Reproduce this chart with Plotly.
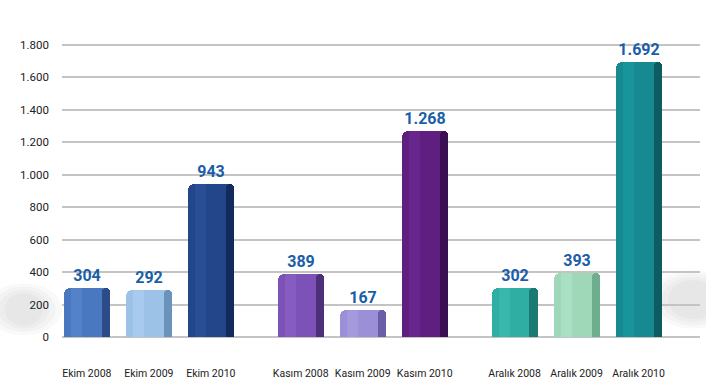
import plotly.graph_objects as go

# Monthly counts, grouped by month, three years each
categories = ["Ekim 2008", "Ekim 2009", "Ekim 2010",
              "Kasım 2008", "Kasım 2009", "Kasım 2010",
              "Aralık 2008", "Aralık 2009", "Aralık 2010"]
values = [304, 292, 943, 389, 167, 1268, 302, 393, 1692]
positions = [0, 1, 2, 3.45, 4.45, 5.45, 6.9, 7.9, 8.9]
y_ticks = [0, 200, 400, 600, 800, 1000, 1200, 1400, 1600, 1800]

main_colors = ["#4a78c0", "#9cc2e8", "#23458a",
               "#7d52b8", "#9b8fd8", "#5e1f80",
               "#2faea3", "#9ed8b8", "#168a90"]
edge_colors = ["#2b4c86", "#6a92bb", "#132a5c",
               "#4d2f7a", "#6a5fa4", "#3a1052",
               "#1b7a72", "#6eae8e", "#0c5d62"]
light_colors = ["#5c8ad0", "#b0d2f2", "#2f56a0",
                "#8e64c8", "#ada2e4", "#6e2c94",
                "#3fc0b4", "#b2e6ca", "#1e9ca2"]


def fmt(v):
    return f"{v:,}".replace(",", ".")


BAR_W = 0.74
EDGE_W = 0.13
LIGHT_W = 0.18
FONT = "Roboto, Open Sans, sans-serif"

fig = go.Figure()

# body of each cylinder, with the value printed above it
fig.add_trace(go.Bar(
    x=positions, y=values, width=BAR_W,
    marker=dict(color=main_colors, line=dict(width=0), cornerradius=6),
    text=[fmt(v) for v in values], textposition="outside",
    textfont=dict(family=FONT, size=16, color="#1b5ea8", weight="bold"),
    cliponaxis=False, hoverinfo="skip", showlegend=False,
))
# soft highlight on the left side
fig.add_trace(go.Bar(
    x=positions, y=values, width=LIGHT_W,
    offset=-BAR_W / 2 + 0.12,
    marker=dict(color=light_colors, line=dict(width=0), opacity=0.55, cornerradius=3),
    hoverinfo="skip", showlegend=False,
))
# shaded right edge
fig.add_trace(go.Bar(
    x=positions, y=values, width=EDGE_W,
    offset=BAR_W / 2 - EDGE_W,
    marker=dict(color=edge_colors, line=dict(width=0), cornerradius=5),
    hoverinfo="skip", showlegend=False,
))

# faint floor shadows at both sides
for x0, x1, y0, y1 in [(-0.12, 0.0, 0.04, 0.2), (0.92, 1.06, 0.06, 0.24)]:
    for k in range(4):
        pad = 0.01 * k
        fig.add_shape(type="circle", xref="paper", yref="paper",
                      x0=x0 + pad, x1=x1 - pad, y0=y0 + pad, y1=y1 - pad,
                      fillcolor="rgba(140,140,140,0.05)", line=dict(width=0),
                      layer="below")

fig.update_layout(
    width=706, height=379,
    margin=dict(l=62, r=6, t=25, b=31, autoexpand=False),
    paper_bgcolor="white", plot_bgcolor="rgba(0,0,0,0)",
    barmode="overlay", bargap=0,
    font=dict(family=FONT, color="#222"),
    xaxis=dict(
        range=[-0.4, 9.89], tickvals=positions, ticktext=categories,
        showgrid=False, zeroline=False, showline=False, ticks="",
        tickangle=0, automargin=False,
        tickfont=dict(size=10.5, color="#222"), ticklabelstandoff=17,
    ),
    yaxis=dict(
        range=[-68, 1923], tickvals=y_ticks,
        ticktext=[fmt(v) for v in y_ticks], automargin=False,
        showgrid=True, gridcolor="#c4c4c4", gridwidth=2,
        zeroline=False, showline=False, ticks="",
        tickfont=dict(size=11.5, color="#222"), ticklabelstandoff=12,
    ),
)

fig.write_html("out.html")
